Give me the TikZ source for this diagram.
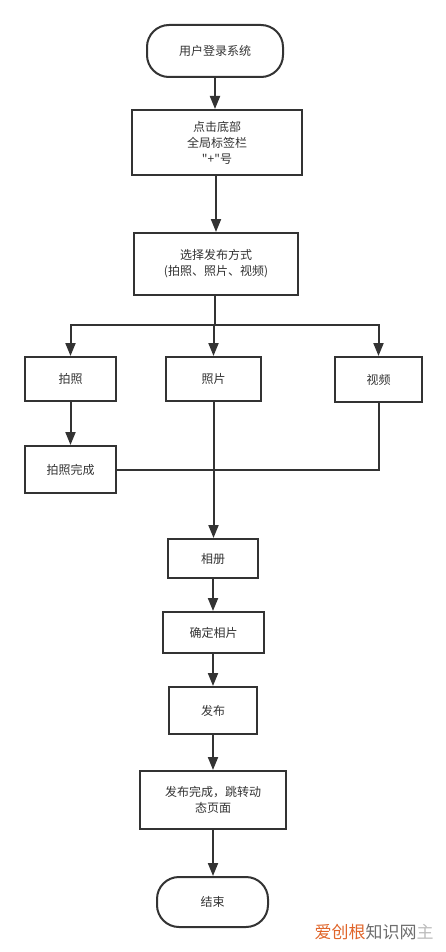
\documentclass[tikz,border=0pt]{standalone}
\usepackage{fontspec}
\newfontfamily\cjk{Noto Sans CJK SC}
\usetikzlibrary{arrows.meta}
\definecolor{ln}{HTML}{333333}
\definecolor{tx}{HTML}{333333}
\definecolor{wmo}{HTML}{E0652A}
\definecolor{wmg}{HTML}{6E6E6E}
\definecolor{wml}{HTML}{BBBBBB}
\tikzset{
  box/.style={draw=ln, line width=2pt, fill=white, text=tx, align=center,
    inner sep=0pt, font=\cjk\fontsize{12}{16}\selectfont},
  term/.style={box, rounded corners=22pt},
  conn/.style={draw=ln, line width=2pt},
  arr/.style={conn, -{Triangle[width=10pt,length=13pt]}},
}
\begin{document}
\begin{tikzpicture}[x=1pt,y=-1pt]
\useasboundingbox (0,0) rectangle (446,952);
\node[term, minimum width=136pt, minimum height=52pt] (start) at (215,51) {用户登录系统};
\node[box, minimum width=170pt, minimum height=65pt] (click) at (217,142.5) {点击底部\\全局标签栏\\"+"号};
\node[box, minimum width=164pt, minimum height=62pt] (choose) at (216,264) {选择发布方式\\(拍照、照片、视频)};
\node[box, minimum width=91pt, minimum height=44pt] (paizhao) at (70.5,379) {拍照};
\node[box, minimum width=95pt, minimum height=44pt] (zhaopian) at (213.5,379) {照片};
\node[box, minimum width=87pt, minimum height=45pt] (shipin) at (378.5,379.5) {视频};
\node[box, minimum width=91pt, minimum height=47pt] (pzwc) at (70.5,469.5) {拍照完成};
\node[box, minimum width=90pt, minimum height=39pt] (xiangce) at (213,558.5) {相册};
\node[box, minimum width=101pt, minimum height=41pt] (queding) at (213.5,632.5) {确定相片};
\node[box, minimum width=88pt, minimum height=47pt] (fabu) at (213,710.5) {发布};
\node[box, minimum width=146pt, minimum height=58pt] (fbwc) at (213,800) {发布完成，跳转动\\态页面};
\node[term, minimum width=111pt, minimum height=50pt] (end) at (212.5,902) {结束};
\coordinate (bus) at (215,325);
\coordinate (merge) at (213.5,470);
\draw[arr] (start.south) -- (start.south |- click.north);
\draw[arr] (click.south -| choose.north) -- (choose.north);
\draw[conn] (choose.south -| bus) -- (bus);
\draw[arr] (bus) -| (paizhao.north);
\draw[arr] (bus) -| (shipin.north);
\draw[arr] (bus -| zhaopian.north) -- (zhaopian.north);
\draw[arr] (paizhao.south) -- (pzwc.north);
\draw[conn] (pzwc.east |- merge) -- (merge);
\draw[conn] (shipin.south) |- (merge);
\draw[arr] (zhaopian.south) -- (zhaopian.south |- xiangce.north);
\draw[arr] (xiangce.south -| 213,0) -- (queding.north -| 213,0);
\draw[arr] (queding.south -| 213,0) -- (fabu.north -| 213,0);
\draw[arr] (fabu.south -| 213,0) -- (fbwc.north -| 213,0);
\draw[arr] (fbwc.south -| 213,0) -- (end.north -| 213,0);
\node[inner sep=0pt, font=\cjk\fontsize{17}{20}\selectfont] (wm) at (374,932) {\textcolor{wmo}{爱创根}\textcolor{wmg}{知识网}\textcolor{wml}{主}};
\end{tikzpicture}
\end{document}
